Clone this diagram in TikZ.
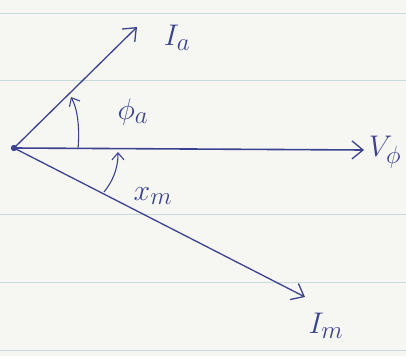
\documentclass[tikz,border=0pt]{standalone}
\usetikzlibrary{arrows.meta}
\definecolor{ink}{HTML}{3B4390}
\definecolor{paper}{HTML}{F6F6F3}
\definecolor{rule}{HTML}{C9DADD}
\tikzset{
  phasor/.style={draw=ink, line width=1.3pt, -{Straight Barb[length=11pt,width=18pt,line width=1.3pt]}},
  anglearc/.style={draw=ink, line width=1.1pt, -{Straight Barb[length=7pt,width=12pt,line width=1.1pt]}},
  lbl/.style={text=ink, font=\Huge, scale=1.2, inner sep=0pt},
  paperline/.style={draw=rule, line width=1pt}
}
\begin{document}
\begin{tikzpicture}[x=1pt,y=-1pt]
\fill[paper] (0,0) rectangle (406,356);
\useasboundingbox (0,0) rectangle (406,356);
% ruled lines of the paper
\foreach \yy in {13,80,214,282,350} \draw[paperline] (0,\yy) -- (406,\yy);
% points
\coordinate (O) at (14,148);
\coordinate (V) at (364,150);
\coordinate (Ia) at (137,27);
\coordinate (Im) at (305,297);
\coordinate (a1) at (78,149);
\coordinate (a2) at (71,97);
\coordinate (m1) at (104,192);
\coordinate (m2) at (118,152);
% phasors
\draw[phasor, line width=1.6pt] (O) -- (V);
\draw[phasor] (O) -- (Ia);
\draw[phasor] (O) -- (Im);
\fill[ink] (O) circle (3.2);
% angle arcs
\draw[anglearc] (a1) .. controls (80,125) and (77,108) .. (a2);
\draw[anglearc] (m1) .. controls (112,182) and (118,170) .. (m2);
% labels
\node[lbl] (lIa) at (177,38) {$I_a$};
\node[lbl] (lphi) at (133,112) {$\phi_a$};
\node[lbl] (lV) at (385,152) {$V_\phi$};
\node[lbl] (lx) at (153,196) {$x_m$};
\node[lbl] (lIm) at (326,326) {$I_m$};
\end{tikzpicture}
\end{document}
